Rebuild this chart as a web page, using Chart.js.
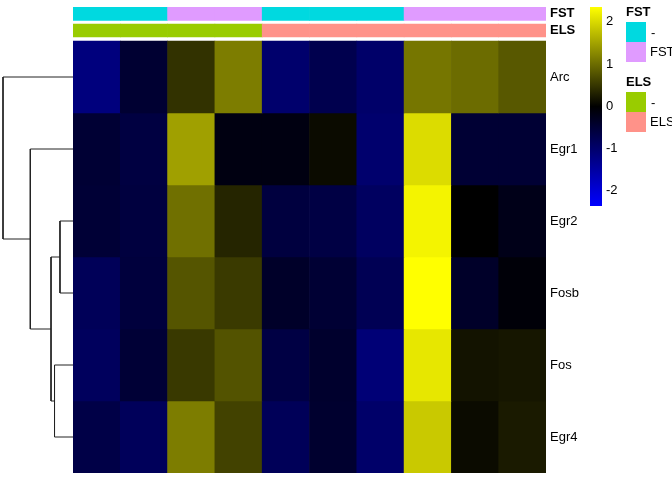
<!DOCTYPE html>
<html>
<head>
<meta charset="utf-8">
<script src="https://cdn.jsdelivr.net/npm/chart.js@4.4.0/dist/chart.umd.min.js"></script>
<style>
  html, body { margin: 0; padding: 0; background: #fff; overflow: hidden; }
  #wrap { position: relative; width: 672px; height: 480px; font-family: "Liberation Sans", Arial, sans-serif; }
  #heat { position: absolute; left: 0; top: 0; }
  .lg { position: absolute; font-size: 13px; color: #000; white-space: nowrap; }
  .ttl { font-weight: bold; }
  .sw { position: absolute; width: 20px; height: 20px; }
</style>
</head>
<body>
<div id="wrap">
  <canvas id="heat" width="672" height="480"></canvas>
</div>
<script>
// genes (rows, top to bottom) and samples (columns)
const genes = ['Arc', 'Egr1', 'Egr2', 'Fosb', 'Fos', 'Egr4'];
const samples = ['s1', 's2', 's3', 's4', 's5', 's6', 's7', 's8', 's9', 's10'];

// column annotations
const fst = ['-', '-', 'FST', 'FST', '-', '-', '-', 'FST', 'FST', 'FST'];
const els = ['-', '-', '-', '-', 'ELS', 'ELS', 'ELS', 'ELS', 'ELS', 'ELS'];

// scaled expression, one array per gene
const arc  = [-1.15, -0.46, 0.46, 1.15, -0.99, -0.72, -0.96, 1.08, 0.99, 0.81];
const egr1 = [-0.48, -0.60, 1.47, -0.16, -0.16, 0.10, -1.00, 2.02, -0.48, -0.48];
const egr2 = [-0.50, -0.58, 1.03, 0.34, -0.58, -0.62, -0.88, 2.24, 0.00, -0.22];
const fosb = [-0.81, -0.56, 0.78, 0.53, -0.38, -0.48, -0.77, 2.34, -0.38, -0.07];
const fos  = [-0.85, -0.50, 0.52, 0.76, -0.62, -0.41, -1.08, 2.12, 0.17, 0.20];
const egr4 = [-0.65, -0.83, 1.15, 0.61, -0.81, -0.43, -0.96, 1.84, 0.10, 0.24];
const values = [arc, egr1, egr2, fosb, fos, egr4];

// row clustering: [left child, right child, height]; '#n' = n-th merge
const merges = [
  ['Egr2', 'Fosb', 0.186],
  ['Fos', 'Egr4', 0.264],
  ['#1', '#2', 0.314],
  ['Egr1', '#3', 0.61],
  ['Arc', '#4', 1.0]
];

// colour legend ticks
const legendTicks = [2, 1, 0, -1, -2];

const vmax = 2.34;
const fstColors = { '-': '#00d9e0', 'FST': '#e09bff' };
const elsColors = { '-': '#99cc00', 'ELS': '#ff9289' };

function heatColor(v) {
  const t = Math.min(Math.abs(v) / vmax, 1);
  const c = Math.round(255 * t);
  return v >= 0 ? `rgb(${c},${c},0)` : `rgb(0,0,${c})`;
}

// layout (pixels)
const plotLeft = 73, plotRight = 546, plotTop = 7, plotBottom = 473;
const rowPx = 72;
const dendroPx = 70;
// annotation bands in row units above the heatmap (row 0 starts at 0)
const fstBand = [-34 / rowPx, -20.5 / rowPx];
const elsBand = [-17 / rowPx, -4 / rowPx];

const datasets = [];
values.forEach((row, i) => {
  datasets.push({
    label: genes[i],
    data: samples.map(() => [i, i + 1]),
    backgroundColor: row.map(heatColor),
    grouped: false, barPercentage: 1, categoryPercentage: 1, borderWidth: 0
  });
});
datasets.push({
  label: 'FST', data: samples.map(() => fstBand),
  backgroundColor: fst.map(k => fstColors[k]),
  grouped: false, barPercentage: 1, categoryPercentage: 1, borderWidth: 0
});
datasets.push({
  label: 'ELS', data: samples.map(() => elsBand),
  backgroundColor: els.map(k => elsColors[k]),
  grouped: false, barPercentage: 1, categoryPercentage: 1, borderWidth: 0
});

// dendrogram polylines (x = -height, drawn left of the heatmap)
const nodes = {};
genes.forEach((g, i) => { nodes[g] = { y: i + 0.5, h: 0 }; });
merges.forEach((m, k) => {
  const a = nodes[m[0]], b = nodes[m[1]], h = m[2];
  nodes['#' + (k + 1)] = { y: (a.y + b.y) / 2, h: h };
  datasets.push({
    type: 'line', label: 'dendro' + k,
    data: [{ x: -a.h, y: a.y }, { x: -h, y: a.y }, { x: -h, y: b.y }, { x: -b.h, y: b.y }],
    xAxisID: 'xd', yAxisID: 'y', order: -1,
    borderColor: '#222', borderWidth: 1, pointRadius: 0, tension: 0,
    fill: false, clip: false, borderJoinStyle: 'miter'
  });
});

const rootH = merges[merges.length - 1][2];
const tickPos = [(fstBand[0] + fstBand[1]) / 2, (elsBand[0] + elsBand[1]) / 2].concat(genes.map((g, i) => i + 0.5));
const tickText = ['FST', 'ELS'].concat(genes);

new Chart(document.getElementById('heat'), {
  type: 'bar',
  data: { labels: samples, datasets: datasets },
  options: {
    responsive: false,
    animation: false,
    layout: { padding: { left: plotLeft, top: plotTop, bottom: 480 - plotBottom, right: 0 } },
    plugins: { legend: { display: false }, tooltip: { enabled: false } },
    scales: {
      x: { display: false, offset: true },
      xd: {
        type: 'linear', display: false, bounds: 'data', offset: false, beginAtZero: false,
        min: 0, max: rootH * (plotRight - plotLeft) / dendroPx
      },
      y: {
        type: 'linear', reverse: true, position: 'right', bounds: 'data',
        min: fstBand[0], max: genes.length,
        grid: { display: false, drawTicks: false },
        border: { display: false },
        afterFit: s => { s.width = 672 - plotRight; s.paddingTop = 0; s.paddingBottom = 0; },
        afterBuildTicks: s => { s.ticks = tickPos.map(v => ({ value: v })); },
        ticks: {
          padding: 4,
          color: '#000',
          font: ctx => ({ family: 'Liberation Sans', size: 13, weight: ctx.index < 2 ? 'bold' : 'normal' }),
          callback: (v, i) => tickText[i]
        }
      }
    }
  }
});

// legends
const wrap = document.getElementById('wrap');
function el(cls, css, text) {
  const d = document.createElement('div');
  d.className = cls;
  Object.assign(d.style, css);
  if (text !== undefined) d.textContent = text;
  wrap.appendChild(d);
  return d;
}
const barTop = 7, barBottom = 206, zeroY = 105.6, unitPx = 42.1;
el('', { position: 'absolute', left: '590px', top: barTop + 'px', width: '12px', height: (barBottom - barTop) + 'px',
  background: 'linear-gradient(to bottom, #ffff00, #000000 50%, #0000ff)' });
legendTicks.forEach(v => {
  el('lg', { left: '606px', top: (zeroY - v * unitPx - 8) + 'px' }, String(v));
});
el('lg ttl', { left: '626px', top: '4px' }, 'FST');
el('sw', { left: '626px', top: '22px', background: fstColors['-'] });
el('sw', { left: '626px', top: '42px', background: fstColors['FST'] });
el('lg', { left: '651px', top: '25px' }, '-');
el('lg', { left: '650px', top: '44px' }, 'FST');
el('lg ttl', { left: '626px', top: '74px' }, 'ELS');
el('sw', { left: '626px', top: '92px', background: elsColors['-'] });
el('sw', { left: '626px', top: '112px', background: elsColors['ELS'] });
el('lg', { left: '651px', top: '95px' }, '-');
el('lg', { left: '650px', top: '114px' }, 'ELS');
</script>
</body>
</html>
